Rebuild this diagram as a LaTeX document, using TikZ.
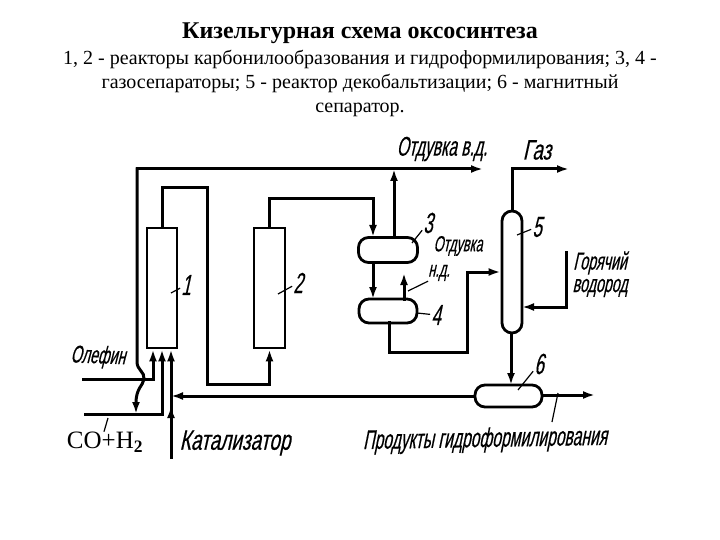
\documentclass[tikz,border=0pt]{standalone}
\usepackage{fontspec}
\setmainfont{Liberation Serif}
\newfontfamily\handfont[FakeStretch=0.58,FakeSlant=0.22,FakeBold=0.4]{Liberation Sans}
\newfontfamily\handwide[FakeStretch=0.68,FakeSlant=0.22,FakeBold=0.4]{Liberation Sans}
\usetikzlibrary{arrows.meta}

\tikzset{
    vessel/.style={draw, line width=2.8pt, rectangle, inner sep=0pt, fill=white},
    pipe/.style={line width=3pt, line join=miter, line cap=rect},
    flow/.style={pipe, -{Latex[length=12pt,width=8pt]}},
    leader/.style={line width=1.2pt},
    hand/.style={font=\handfont\fontsize{27}{28}\selectfont, inner sep=1pt},
    handsmall/.style={font=\handfont\fontsize{24.5}{25}\selectfont, inner sep=1pt},
    handtight/.style={font=\handfont\fontsize{22}{23}\selectfont, inner sep=0pt},
    handbig/.style={font=\handwide\fontsize{28}{29}\selectfont, inner sep=1pt},
    num/.style={font=\handfont\fontsize{29}{30}\selectfont, inner sep=1pt}
}

\begin{document}
\begin{tikzpicture}[x=1pt, y=-1pt]
    \useasboundingbox (0,0) rectangle (720,540);

    % заголовок
    \node[font=\fontsize{24}{26}\selectfont\bfseries] (title) at (360,33) {Кизельгурная схема оксосинтеза};
    \node[align=center, font=\fontsize{20}{24}\selectfont] (caption) at (360,83) {
        1, 2 - реакторы карбонилообразования и гидроформилирования; 3, 4 -\\
        газосепараторы; 5 - реактор декобальтизации; 6 - магнитный\\
        сепаратор.};

    % аппараты
    \node[vessel, minimum width=30pt, minimum height=120pt] (r1) at (162,288) {};
    \node[vessel, minimum width=31pt, minimum height=120pt] (r2) at (269.5,288) {};
    \node[vessel, minimum width=59pt, minimum height=25pt, rounded corners=10pt] (s3) at (388,250) {};
    \node[vessel, minimum width=58pt, minimum height=24pt, rounded corners=10pt] (s4) at (388,311) {};
    \node[vessel, minimum width=20pt, minimum height=122pt, rounded corners=10pt] (c5) at (512,272) {};
    \node[vessel, minimum width=67pt, minimum height=22pt, rounded corners=10pt] (m6) at (508.5,396) {};

    % опорные точки
    \coordinate (topleft) at (137,169);
    \coordinate (topend) at (483,169);
    \coordinate (tee) at (394,169);
    \coordinate (olefin) at (83,379);
    \coordinate (synin) at (85,414);
    \coordinate (synjoin) at (136,414);
    \coordinate (catin) at (171,457);
    \coordinate (catmid) at (171,396);
    \coordinate (gasend) at (569,169);
    \coordinate (h2start) at (566,252);
    \coordinate (prodend) at (595,395);
    \coordinate (blowoff) at (404,273);

    % верхняя линия и обход
    \draw[flow] (topleft) -- (topend);
    \draw[flow] (topleft) -- (137,362) .. controls (137,370) and (145,372) .. (144,379)
        .. controls (143,386) and (136,388) .. (synjoin);

    % сырьё реактора 1
    \draw[flow] (olefin) -| ([xshift=-9pt]r1.south);
    \draw[flow] (synin) -| (r1.south);
    \draw[flow] (catin) -- ([xshift=9pt]r1.south);
    \draw[flow] (catin) -- (171,406);

    % реактор 1 -- реактор 2
    \draw[flow] (r1.north) -- (162,188) -- (207,188) -- (207,384) -- (269.5,384) -- (r2.south);

    % реактор 2 -- газосепараторы
    \draw[flow] (r2.north) |- (373,199) -- (373,237);
    \draw[flow] (394,237) -- (tee);
    \draw[flow] (373,262) -- (373,299);
    \draw[flow] (404,299) -- (blowoff);
    \draw[flow] (389,322) |- (467,352) |- (c5.west);

    % колонна 5
    \draw[flow] (c5.north) |- (gasend);
    \draw[flow] (h2start) |- (522,307);
    \draw[flow] (511,333) -- (511,385);

    % сепаратор 6
    \draw[flow] (m6.west |- catmid) -- (catmid);
    \draw[flow] (m6.east |- prodend) -- (prodend);

    % номера аппаратов
    \foreach \name/\txt/\ax/\ay/\bx/\by in {1/1/171/293/186/285, 2/2/278/294/298/283,
        3/3/412/243/428/223, 4/4/417/313/436/315, 5/5/517/235/537/227, 6/6/518/390/539/364} {
        \coordinate (p\name) at (\ax,\ay);
        \node[num] (n\name) at (\bx,\by) {\txt};
        \draw[leader] (p\name) -- (n\name);
    }

    % надписи
    \node[handsmall, rotate=-2] (olefintxt) at (98,357) {Олефин};
    \node[hand] (blowtop) at (442,149) {Отдувка в.д.};
    \node[handbig] (gastxt) at (537,150) {Газ};
    \node[handtight] (blowlow) at (458,246) {Отдувка};
    \node[handtight] (blowlow2) at (439,273) {н.д.};
    \node[handsmall] (hotA) at (600,263) {Горячий};
    \node[handsmall] (hotB) at (600,288) {водород};
    \node[hand, rotate=1] (prodtxt) at (485,440) {Продукты гидроформилирования};
    \node[handbig] (cattxt) at (235,443) {Катализатор};
    \node[inner sep=0pt] (syntxt) at (105,442) {\fontsize{25}{26}\selectfont CO+H\textsubscript{\textbf{2}}};

    % выноски
    \coordinate (p7) at (558,393);
    \coordinate (q7) at (552,422);
    \draw[leader] (p7) -- (q7);
    \coordinate (p8) at (108,418);
    \draw[leader] (p8) -- ([xshift=-1pt]syntxt.north);
    \coordinate (p9) at (408,291);
    \draw[leader] (p9) -- (blowlow2.south west);
\end{tikzpicture}
\end{document}
